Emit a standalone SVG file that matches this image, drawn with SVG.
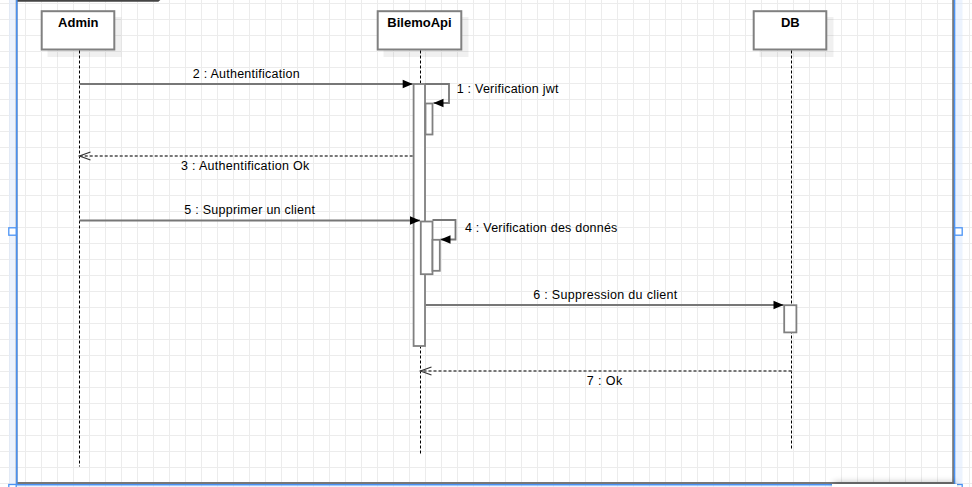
<svg xmlns="http://www.w3.org/2000/svg" width="972" height="487" viewBox="0 0 972 487">
<defs>
<style>
.bg{fill:#fff}
.grid{fill:url(#gridTile)}
.frame{fill:none;stroke:#777;stroke-width:2}
.tab{fill:none;stroke:#444;stroke-width:2}
.band{fill:#d9e7fd;opacity:.5}
.sel{fill:none;stroke:#4a93f5;stroke-width:1.5}
.handle{fill:#fff;stroke:#4a93f5;stroke-width:1.3}
.head{fill:#fff;stroke:#808080;stroke-width:2}
.shade{fill:#000;opacity:.06}
.title{font-family:"Liberation Sans",Arial,sans-serif;font-size:13px;font-weight:bold;text-anchor:middle;fill:#000}
.life{fill:none;stroke:#000;stroke-width:1;stroke-dasharray:3 2}
.act{fill:#fff;stroke:#808080;stroke-width:1.8}
.msg{fill:none;stroke:#777;stroke-width:1.8}
.ret{fill:none;stroke:#777;stroke-width:1.8;stroke-dasharray:3 2}
.lbl{font-family:"Liberation Sans",Arial,sans-serif;font-size:12.5px;fill:#000}
</style>
<pattern id="gridTile" patternUnits="userSpaceOnUse" x="9" y="3" width="16" height="16">
<path d="M0.5 0V16M0 0.5H16" fill="none" stroke="#ececec" stroke-width="1"/>
</pattern>
<marker id="solidHead" markerUnits="userSpaceOnUse" viewBox="0 0 10 10" markerWidth="10" markerHeight="10" refX="10" refY="5" orient="auto" overflow="visible">
<path d="M0 0.8L10 5L0 9.2z" fill="#000"/>
</marker>
<marker id="openHead" markerUnits="userSpaceOnUse" viewBox="0 0 12 10" markerWidth="12" markerHeight="10" refX="11" refY="5" orient="auto" overflow="visible">
<path d="M0 1L11 5L0 9" fill="none" stroke="#333" stroke-width="1.2"/>
</marker>
<filter id="softShadow" x="-20%" y="-200%" width="140%" height="500%">
<feGaussianBlur stdDeviation="3"/>
</filter>
</defs>

<!-- canvas and grid -->
<rect class="bg" x="0" y="0" width="972" height="487"/>
<rect class="grid" x="0" y="0" width="972" height="487"/>

<!-- sequence frame -->
<g id="frame">
<rect class="frame" x="16.5" y="-10" width="936.7" height="493"/>
<path class="tab" d="M17 0.8H158L162 -3"/>
<rect class="band" x="9" y="0" width="7" height="487"/>
<rect class="band" x="955.5" y="0" width="7" height="487"/>
<rect class="band" x="9" y="485.5" width="953" height="2"/>
<path class="sel" d="M16.8 0V484.7H954.6V0"/>
<rect class="handle" x="8.8" y="227.8" width="7.4" height="7.4"/>
<rect class="handle" x="954.8" y="227.8" width="7.4" height="7.4"/>
<rect class="handle" x="8.8" y="484.5" width="7.4" height="7.4"/>
<rect class="handle" x="954.8" y="484.5" width="7.4" height="7.4"/>
</g>

<!-- lifeline: Admin -->
<g id="admin">
<rect class="shade" x="47.5" y="17" width="74" height="40"/>
<rect class="head" x="41.7" y="11.2" width="72.6" height="38.3"/>
<text class="title" x="78.3" y="27.3">Admin</text>
<path class="life" d="M79.5 50.5V466.5"/>
</g>

<!-- lifeline: BilemoApi -->
<g id="bilemoapi">
<rect class="shade" x="383.5" y="17" width="85" height="40"/>
<rect class="head" x="377.7" y="11.2" width="83.6" height="38.3"/>
<text class="title" x="419.5" y="27.3">BilemoApi</text>
<path class="life" d="M420.5 50.5V455"/>
<rect class="act" x="413.6" y="84" width="11.4" height="262"/>
<rect class="act" x="425.5" y="103.5" width="7" height="31"/>
<rect class="act" x="420.8" y="221.5" width="11.7" height="52.7"/>
<rect class="act" x="432.5" y="239.8" width="7.3" height="31"/>
</g>

<!-- lifeline: DB -->
<g id="db">
<rect class="shade" x="759.5" y="17" width="74" height="40"/>
<rect class="head" x="753.7" y="11.2" width="72.6" height="38.3"/>
<text class="title" x="790.3" y="27.3">DB</text>
<path class="life" d="M791.5 50.5V450"/>
<rect class="act" x="784.2" y="305.2" width="12.2" height="27.2"/>
</g>

<!-- messages -->
<g id="connectors">
<path class="msg" d="M425 84H449V103H433.5" marker-end="url(#solidHead)"/>
<text class="lbl" x="456.7" y="92.7" textLength="101.7" lengthAdjust="spacing">1 : Verification jwt</text>

<path class="msg" d="M79.5 84H412.7" marker-end="url(#solidHead)"/>
<text class="lbl" x="192.7" y="77.7" textLength="107" lengthAdjust="spacing">2 : Authentification</text>

<path class="ret" d="M412.7 156H79.5" marker-end="url(#openHead)"/>
<text class="lbl" x="181" y="170" textLength="128.3" lengthAdjust="spacing">3 : Authentification Ok</text>

<path class="msg" d="M432.5 220H455.5V239.5H440.5" marker-end="url(#solidHead)"/>
<text class="lbl" x="465" y="231.7" textLength="152.3" lengthAdjust="spacing">4 : Verification des donnés</text>

<path class="msg" d="M79.5 220.5H420" marker-end="url(#solidHead)"/>
<text class="lbl" x="184.3" y="214" textLength="130.7" lengthAdjust="spacing">5 : Supprimer un client</text>

<path class="msg" d="M425.7 305H783.5" marker-end="url(#solidHead)"/>
<text class="lbl" x="533.3" y="299.3" textLength="144" lengthAdjust="spacing">6 : Suppression du client</text>

<path class="ret" d="M791.5 371H420.5" marker-end="url(#openHead)"/>
<text class="lbl" x="586.7" y="385" textLength="35.6" lengthAdjust="spacing">7 : Ok</text>
</g>

<!-- panel edge at the lower right -->
<g id="panel">
<rect x="834" y="482" width="122" height="10" fill="#000" opacity=".25" filter="url(#softShadow)"/>
<rect x="832" y="484" width="125" height="4" fill="#fff"/>
</g>
</svg>
